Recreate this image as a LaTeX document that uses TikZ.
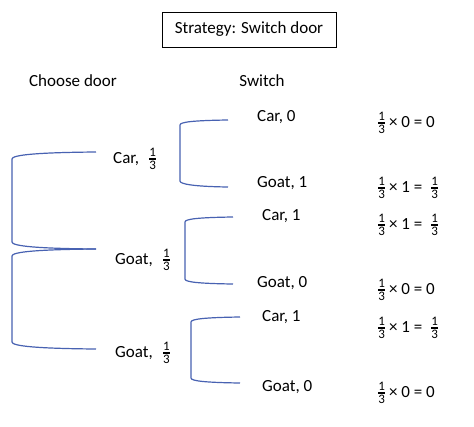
\documentclass[tikz,border=0pt]{standalone}
\usepackage{amsmath}
\usepackage{fontspec}
\setmainfont{Carlito}
\definecolor{brk}{RGB}{72,98,178}
\newcommand{\myfr}{\ensuremath{\genfrac{}{}{1.6pt}{}{\mbox{\fontsize{13}{13}\selectfont 1}}{\mbox{\fontsize{13}{13}\selectfont 3}}}}
\begin{document}
\begin{tikzpicture}[x=1pt,y=-1pt,
  lbl/.style={anchor=west,inner sep=0pt,font=\fontsize{17}{19}\selectfont},
  hdr/.style={inner sep=0pt,font=\fontsize{17}{19}\selectfont},
  brack/.style={draw=brk,line width=1.2pt}]
\useasboundingbox (0,0) rectangle (474,426);
\fill[white] (0,0) rectangle (474,426);
% title
\node[draw=black,line width=1pt,minimum width=174pt,minimum height=35pt,inner sep=0pt,font=\fontsize{17}{19}\selectfont] (title) at (249,29.5) {Strategy: Switch door};
\node[hdr] (choose) at (73,81) {Choose door};
\node[hdr] (switch) at (262,81) {Switch};
% first-level labels
\node[lbl] (c1) at (113,159) {Car,\hspace{9pt}\myfr};
\node[lbl] (g1) at (115,260) {Goat,\hspace{9pt}\myfr};
\node[lbl] (g2) at (115,353) {Goat,\hspace{9pt}\myfr};
% second-level labels
\node[lbl] (s1) at (257,117) {Car, 0};
\node[lbl] (s2) at (257,183) {Goat, 1};
\node[lbl] (s3) at (262,216) {Car, 1};
\node[lbl] (s4) at (257,283) {Goat, 0};
\node[lbl] (s5) at (262,317) {Car, 1};
\node[lbl] (s6) at (262,387) {Goat, 0};
% products
\node[lbl] (p1) at (377,123) {\myfr\,× 0 = 0};
\node[lbl] (p2) at (377,188) {\myfr\,× 1 =\hspace{8pt}\myfr};
\node[lbl] (p3) at (377,225) {\myfr\,× 1 =\hspace{8pt}\myfr};
\node[lbl] (p4) at (377,290) {\myfr\,× 0 = 0};
\node[lbl] (p5) at (377,328) {\myfr\,× 1 =\hspace{8pt}\myfr};
\node[lbl] (p6) at (377,393) {\myfr\,× 0 = 0};
% bracket coordinates
\coordinate (L1t) at (96,152); \coordinate (L1a) at (12,159); \coordinate (L1b) at (12,242); \coordinate (L1e) at (96,249);
\coordinate (L2t) at (96,249); \coordinate (L2a) at (12,256); \coordinate (L2b) at (12,342); \coordinate (L2e) at (96,349);
\coordinate (Rat) at (228,120); \coordinate (Raa) at (180,125); \coordinate (Rab) at (180,181); \coordinate (Rae) at (228,187);
\coordinate (Rbt) at (233,217); \coordinate (Rba) at (185,222); \coordinate (Rbb) at (185,279); \coordinate (Rbe) at (233,284);
\coordinate (Rct) at (240,317); \coordinate (Rca) at (191,322); \coordinate (Rcb) at (191,378); \coordinate (Rce) at (240,383);
% brackets
\draw[brack] (L1t) .. controls +(-60,0.5) and +(0,-4) .. (L1a) -- (L1b) .. controls +(0,4) and +(-60,-0.5) .. (L1e);
\draw[brack] (L2t) .. controls +(-60,0.5) and +(0,-4) .. (L2a) -- (L2b) .. controls +(0,4) and +(-60,-0.5) .. (L2e);
\draw[brack] (Rat) .. controls +(-35,0.5) and +(0,-3) .. (Raa) -- (Rab) .. controls +(0,3) and +(-35,-0.5) .. (Rae);
\draw[brack] (Rbt) .. controls +(-35,0.5) and +(0,-3) .. (Rba) -- (Rbb) .. controls +(0,3) and +(-35,-0.5) .. (Rbe);
\draw[brack] (Rct) .. controls +(-35,0.5) and +(0,-3) .. (Rca) -- (Rcb) .. controls +(0,3) and +(-35,-0.5) .. (Rce);
\end{tikzpicture}
\end{document}
